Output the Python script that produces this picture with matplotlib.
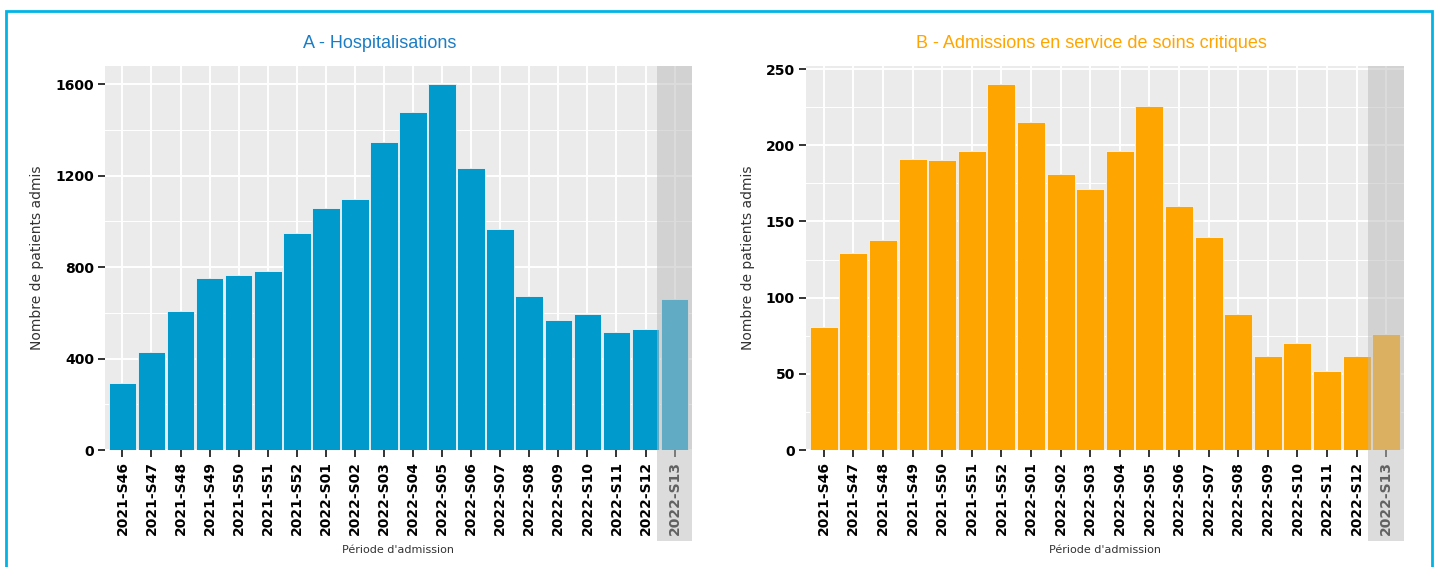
import matplotlib
matplotlib.use("Agg")
import matplotlib.pyplot as plt
from matplotlib.patches import Rectangle
from matplotlib.transforms import blended_transform_factory
from matplotlib import font_manager

weeks = ["2021-S46", "2021-S47", "2021-S48", "2021-S49", "2021-S50", "2021-S51",
         "2021-S52", "2022-S01", "2022-S02", "2022-S03", "2022-S04", "2022-S05",
         "2022-S06", "2022-S07", "2022-S08", "2022-S09", "2022-S10", "2022-S11",
         "2022-S12", "2022-S13"]
hospitalisations = [292, 428, 608, 752, 765, 782, 949, 1058, 1097, 1346, 1478, 1600,
                    1233, 966, 673, 568, 595, 516, 529, 660]
soins_critiques = [81, 129, 138, 191, 190, 196, 240, 215, 181, 171, 196, 226,
                   160, 140, 89, 62, 70, 52, 62, 76]
yticks_a = [0, 400, 800, 1200, 1600]
yticks_b = [0, 50, 100, 150, 200, 250]
title_a = "A - Hospitalisations"
title_b = "B - Admissions en service de soins critiques"
ylabel = "Nombre de patients admis"
xlabel = "Période d'admission"

W, H = 1434, 567
fig = plt.figure(figsize=(W / 100, H / 100), dpi=100)

names = {f.name for f in font_manager.fontManager.ttflist}
title_family = ["Liberation Sans Narrow"] if "Liberation Sans Narrow" in names else ["Liberation Sans"]

def px(x0, y0, x1, y1):
    return [x0 / W, 1 - y1 / H, (x1 - x0) / W, (y1 - y0) / H]

def panel(rect, values, color, yticks, title, title_color, title_x):
    ax = fig.add_axes(rect)
    ax.set_facecolor("#ebebeb")
    n = len(values)
    xs = list(range(n))
    ax.bar(xs, values, width=0.95, color=color, edgecolor="#f4f4f4", linewidth=0.6, zorder=3)
    ax.set_yticks(yticks)
    minor = [(yticks[i] + yticks[i + 1]) / 2 for i in range(len(yticks) - 1)]
    minor.append(yticks[-1] + (yticks[1] - yticks[0]) / 2)
    ax.set_yticks(minor, minor=True)
    ax.set_xticks(xs)
    ax.set_xticklabels(weeks, rotation=90, fontweight="bold", fontsize=10, color="black")
    ax.set_yticklabels([str(t) for t in yticks], fontweight="bold", fontsize=10, color="black")
    ax.set_xlim(-0.6, n - 1 + 0.6)
    ax.set_ylim(0, max(values) * 1.05)
    ax.grid(True, which="major", color="white", linewidth=1.4, zorder=1)
    ax.grid(True, which="minor", axis="y", color="white", linewidth=0.7, zorder=1)
    ax.set_axisbelow(True)
    for s in ax.spines.values():
        s.set_visible(False)
    ax.tick_params(axis="both", which="major", length=5, width=1.4, color="#333333", pad=3)
    ax.tick_params(axis="y", which="minor", length=0)
    ax.set_ylabel(ylabel, fontsize=10, color="#333333", labelpad=8)
    ax.set_xlabel(xlabel, fontsize=8, color="#333333", labelpad=7)
    # shaded last (incomplete) week
    tr = blended_transform_factory(ax.transData, fig.transFigure)
    ax.add_patch(Rectangle((n - 1 - 0.6, 1 - 541 / H), 1.2, (541 - 66) / H,
                           transform=tr, facecolor="#bcbcbc", alpha=0.52,
                           edgecolor="none", clip_on=False, zorder=10))
    fig.text(title_x / W, 1 - 43 / H, title, ha="center", va="center",
             fontsize=13, color=title_color, family=title_family)
    return ax

panel(px(105, 66, 692, 450), hospitalisations, "#009acd", yticks_a,
      title_a, "#1a7dc5", 380)
panel(px(806, 66, 1404, 450), soins_critiques, "#ffa500", yticks_b,
      title_b, "#ffa500", 1091)

fig.patches.append(Rectangle((6 / W, -0.05), (1432 - 6) / W, 1.05 - 11 / H,
                             transform=fig.transFigure, fill=False,
                             edgecolor="#00b4e6", linewidth=2, zorder=20))

fig.savefig("out.png", dpi=100)
